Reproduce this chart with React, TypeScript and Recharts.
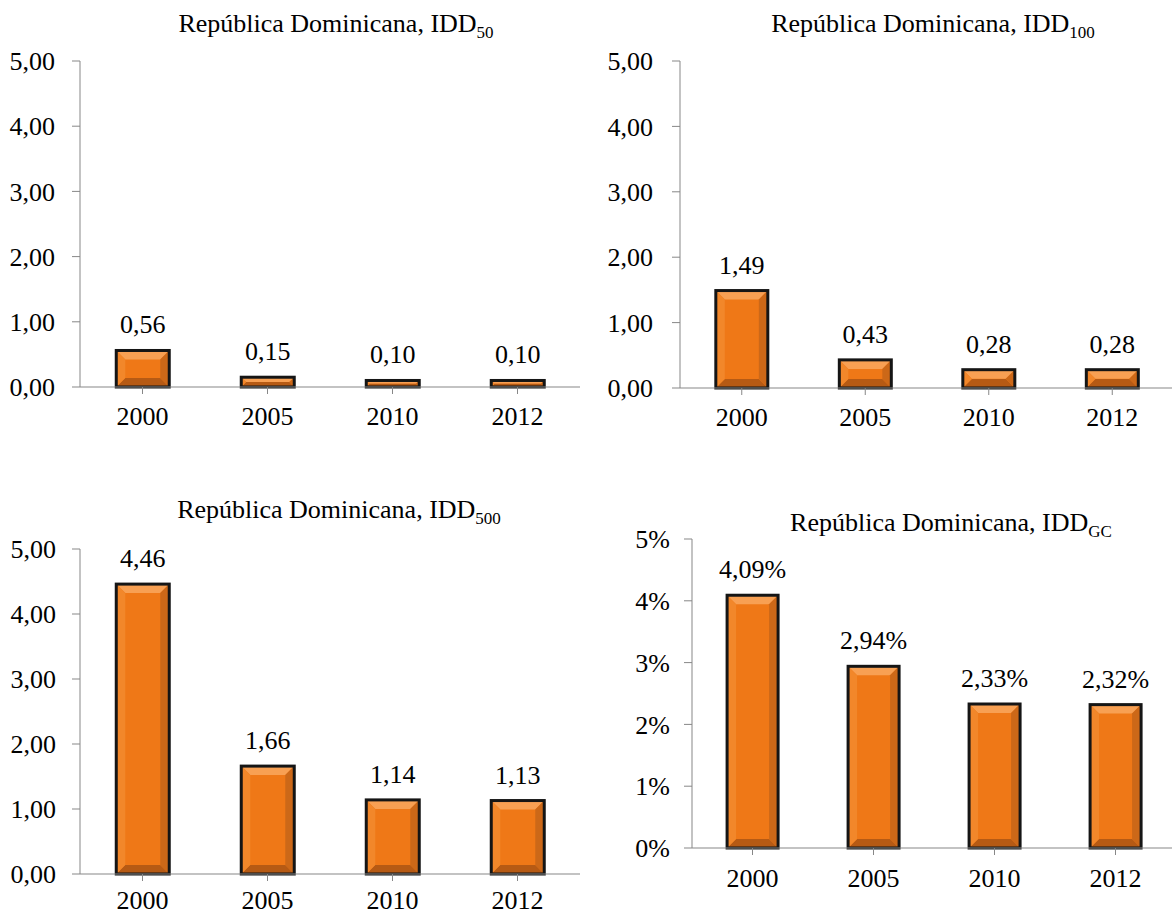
import { Bar, BarChart, LabelList, XAxis, YAxis } from "recharts"

const years = ["2000", "2005", "2010", "2012"]
const idd50 = [0.56, 0.15, 0.1, 0.1]
const idd100 = [1.49, 0.43, 0.28, 0.28]
const idd500 = [4.46, 1.66, 1.14, 1.13]
const iddGC = [4.09, 2.94, 2.33, 2.32]
const yTicks = [0, 1, 2, 3, 4, 5]

const FONT = '"Liberation Serif", "Times New Roman", Times, serif'
const AXIS = "#878787"

const toRows = (values: number[]) => years.map((year, i) => ({ year, value: values[i] }))

const comma = (v: number) => v.toFixed(2).replace(".", ",")
const pct = (v: number) => `${comma(v)}%`

// orange bar with a bevelled frame: light top, dark bottom and right edge
function BevelBar(props: any) {
  const { x, y, width: w, height: h } = props
  if (!h || h <= 0) return null
  const b = Math.min(9, h / 2, w / 2)
  const x2 = x + w
  const y2 = y + h
  return (
    <g>
      <rect x={x} y={y} width={w} height={h} fill="#EF7817" />
      <polygon points={`${x},${y} ${x2},${y} ${x2 - b},${y + b} ${x + b},${y + b}`} fill="#F8A053" />
      <polygon points={`${x},${y2} ${x2},${y2} ${x2 - b},${y2 - b} ${x + b},${y2 - b}`} fill="#B65A14" />
      <polygon points={`${x2},${y} ${x2},${y2} ${x2 - b},${y2 - b} ${x2 - b},${y + b}`} fill="#CC6818" />
      <polygon points={`${x},${y} ${x},${y2} ${x + b},${y2 - b} ${x + b},${y + b}`} fill="#F2872A" />
      <rect x={x} y={y} width={w} height={h} fill="none" stroke="#151515" strokeWidth={3} />
    </g>
  )
}

type PanelProps = {
  values: number[]
  left: number
  top: number
  width: number
  height: number
  yWidth: number
  marginTop: number
  marginRight: number
  xHeight: number
  fmtTick: (v: number) => string
  fmtLabel: (v: number) => string
  tickGap: number
  xGap: number
}

function Panel(p: PanelProps) {
  return (
    <div style={{ position: "absolute", left: p.left, top: p.top }}>
      <BarChart
        width={p.width}
        height={p.height}
        data={toRows(p.values)}
        margin={{ top: p.marginTop, right: p.marginRight, bottom: 0, left: 0 }}
        barCategoryGap="29%"
      >
        <XAxis
          dataKey="year"
          height={p.xHeight}
          stroke={AXIS}
          tickSize={7}
          tickMargin={p.xGap}
          tick={{ fill: "#000", fontSize: 26 }}
        />
        <YAxis
          width={p.yWidth}
          domain={[0, 5]}
          ticks={yTicks}
          interval={0}
          stroke={AXIS}
          tickSize={8}
          tickMargin={p.tickGap}
          tickFormatter={p.fmtTick}
          tick={{ fill: "#000", fontSize: 26 }}
        />
        <Bar dataKey="value" shape={<BevelBar />} isAnimationActive={false}>
          <LabelList
            dataKey="value"
            position="top"
            offset={17}
            formatter={(v: any) => p.fmtLabel(Number(v))}
            fill="#000"
            fontSize={26}
          />
        </Bar>
      </BarChart>
    </div>
  )
}

function Title({ x, y, sub }: { x: number; y: number; sub: string }) {
  return (
    <text x={x} y={y} textAnchor="middle" style={{ fontSize: 26 }} fill="#000">
      República Dominicana, IDD
      <tspan dy={6} style={{ fontSize: 17 }}>
        {sub}
      </tspan>
    </text>
  )
}

export default function App() {
  return (
    <div
      className="idd-panels"
      style={{
        position: "absolute",
        left: 0,
        top: 0,
        width: 1172,
        height: 917,
        overflow: "hidden",
        background: "#fff",
      }}
    >
      <style>{`.idd-panels text { font-family: ${FONT} !important; }`}</style>
      <Panel values={idd50} left={0} top={0} width={590} height={440} yWidth={80} marginTop={61}
        marginRight={10} xHeight={53} fmtTick={comma} fmtLabel={comma} tickGap={17} xGap={13} />
      <Panel values={idd100} left={590} top={0} width={590} height={440} yWidth={90} marginTop={61}
        marginRight={6} xHeight={52} fmtTick={comma} fmtLabel={comma} tickGap={19} xGap={13} />
      <Panel values={idd500} left={0} top={460} width={590} height={457} yWidth={80} marginTop={89}
        marginRight={10} xHeight={43} fmtTick={comma} fmtLabel={comma} tickGap={16} xGap={10} />
      <Panel values={iddGC} left={600} top={460} width={590} height={457} yWidth={92} marginTop={79}
        marginRight={14} xHeight={69} fmtTick={(v) => `${v}%`} fmtLabel={pct} tickGap={14} xGap={14} />
      <svg width={1172} height={917} style={{ position: "absolute", left: 0, top: 0, pointerEvents: "none" }}>
        <Title x={336} y={32} sub="50" />
        <Title x={933} y={32} sub="100" />
        <Title x={339} y={518} sub="500" />
        <Title x={951} y={531} sub="GC" />
      </svg>
    </div>
  )
}
